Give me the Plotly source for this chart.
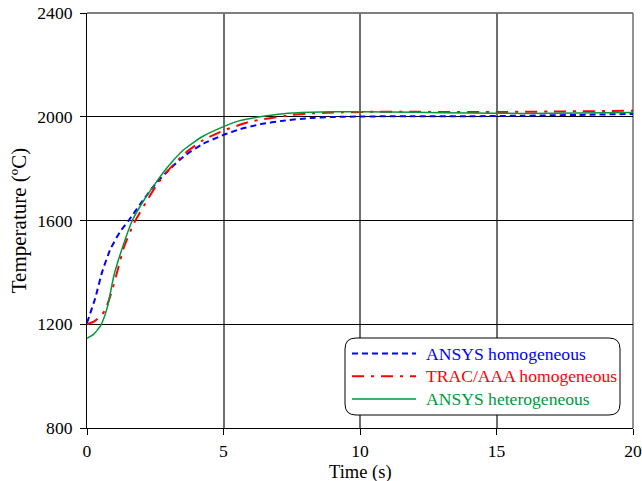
import plotly.graph_objects as go

# ---- data ----
t_blue = [0, 0.3, 0.55, 0.85, 1.2, 1.54, 1.97, 2.52, 3.0, 3.53, 4.2, 5.0, 5.6,
          6.34, 7.2, 8.17, 9.0, 10, 12, 14, 16, 18, 20]
T_blue = [1205, 1300, 1400, 1488, 1555, 1602, 1666, 1743, 1795, 1846, 1893, 1930,
          1952, 1971, 1985, 1995, 1999, 2001, 2002, 2002, 2004, 2007, 2011]

t_red = [0, 0.25, 0.48, 0.65, 0.8, 0.93, 1.15, 1.36, 1.72, 2.21, 2.55, 3.04, 3.6, 4.26,
         5.05, 5.97, 7.44, 8.05, 9, 10.5, 12, 14.5, 17, 20]
T_red = [1200, 1210, 1229, 1252, 1292, 1334, 1420, 1499, 1590, 1679, 1737, 1801, 1860,
         1910, 1949, 1981, 2006, 2012, 2016, 2019, 2019, 2018, 2020, 2023]

t_green = [0, 0.25, 0.51, 0.75, 0.99, 1.23, 1.66, 2.09, 2.55, 3.0, 3.53, 4.2, 5.0, 5.6,
           6.34, 7.2, 8.17, 9, 10, 12, 14, 16, 18, 20]
T_green = [1146, 1162, 1197, 1268, 1390, 1474, 1600, 1679, 1750, 1812, 1872, 1922, 1962,
           1985, 2000, 2012, 2017, 2019, 2019, 2017, 2014, 2013, 2014, 2016]

names = ["ANSYS homogeneous", "TRAC/AAA homogeneous", "ANSYS heterogeneous"]
colors = ["#0000ff", "#ff0000", "#00983a"]
dashes = ["6px,4px", "12px,7px,3px,7px", "solid"]
widths = [2, 2, 1.5]

x_ticks = [0, 5, 10, 15, 20]
y_ticks = [800, 1200, 1600, 2000, 2400]

FONT = "Liberation Serif, Times New Roman, serif"
FS = 17.6

fig = go.Figure()
for tx, ty, n, c, d, w in zip([t_blue, t_red, t_green], [T_blue, T_red, T_green],
                              names, colors, dashes, widths):
    fig.add_trace(go.Scatter(x=tx, y=ty, name=n, mode="lines",
                             line=dict(color=c, dash=d, width=w, shape="spline", smoothing=0.5),
                             showlegend=False))

W, H = 642, 481
L, R, T, B = 87, 9, 13, 53
pw, ph = W - L - R, H - T - B


def px(xp):
    return (xp - L) / pw


def py(yp):
    return (H - B - yp) / ph


# frame lines at the top (black) and right (grey)
shapes = [
    dict(type="line", xref="paper", yref="paper", x0=0, x1=1, y0=1, y1=1,
         line=dict(color="black", width=1), layer="below"),
    dict(type="line", xref="paper", yref="paper", x0=1, x1=1, y0=0, y1=1,
         line=dict(color="#6e6e6e", width=1.5), layer="below"),
]

# legend box (rounded rectangle)
x0, x1, y0, y1 = px(345), px(620), py(415), py(338)
rx, ry = 11 / pw, 11 / ph
path = (f"M{x0+rx},{y1} L{x1-rx},{y1} Q{x1},{y1} {x1},{y1-ry} "
        f"L{x1},{y0+ry} Q{x1},{y0} {x1-rx},{y0} L{x0+rx},{y0} "
        f"Q{x0},{y0} {x0},{y0+ry} L{x0},{y1-ry} Q{x0},{y1} {x0+rx},{y1} Z")
shapes.append(dict(type="path", path=path, xref="paper", yref="paper",
                   fillcolor="white", line=dict(color="black", width=1), layer="above"))
annotations = []
for i, (n, c, d, w) in enumerate(zip(names, colors, dashes, widths)):
    yy = py(353.5 + i * 22.8)
    shapes.append(dict(type="line", xref="paper", yref="paper",
                       x0=px(352), x1=px(416), y0=yy, y1=yy,
                       line=dict(color=c, dash=d, width=w), layer="above"))
    annotations.append(dict(text=n, xref="paper", yref="paper", x=px(424), y=yy,
                            xanchor="left", yanchor="middle", showarrow=False,
                            font=dict(family=FONT, size=FS, color=c)))

# x-axis title
annotations.append(dict(text="Time (s)", xref="paper", yref="paper", x=0.5, y=py(472),
                        xanchor="center", yanchor="middle", showarrow=False,
                        font=dict(family=FONT, size=18.5, color="black")))

fig.update_layout(
    width=W, height=H,
    margin=dict(l=L, r=R, t=T, b=B),
    paper_bgcolor="white", plot_bgcolor="white",
    font=dict(family=FONT, size=FS, color="black"),
    shapes=shapes, annotations=annotations,
    showlegend=False,
)
fig.update_xaxes(range=[0, 20], tickvals=x_ticks, ticks="outside", ticklen=6,
                 tickcolor="black", showgrid=True, gridcolor="#6e6e6e", gridwidth=1.5,
                 showline=True, linecolor="black", linewidth=1, zeroline=False,
                 automargin=False, ticklabelstandoff=1, tickfont=dict(size=FS))
fig.update_yaxes(range=[800, 2400], tickvals=y_ticks, ticks="outside", ticklen=6,
                 tickcolor="black", showgrid=True, gridcolor="black", gridwidth=1,
                 showline=True, linecolor="black", linewidth=1, zeroline=False,
                 automargin=False, ticklabelstandoff=4,
                 title=dict(text="Temperature (ºC)", standoff=4), tickfont=dict(size=FS))

fig.write_html("out.html")
